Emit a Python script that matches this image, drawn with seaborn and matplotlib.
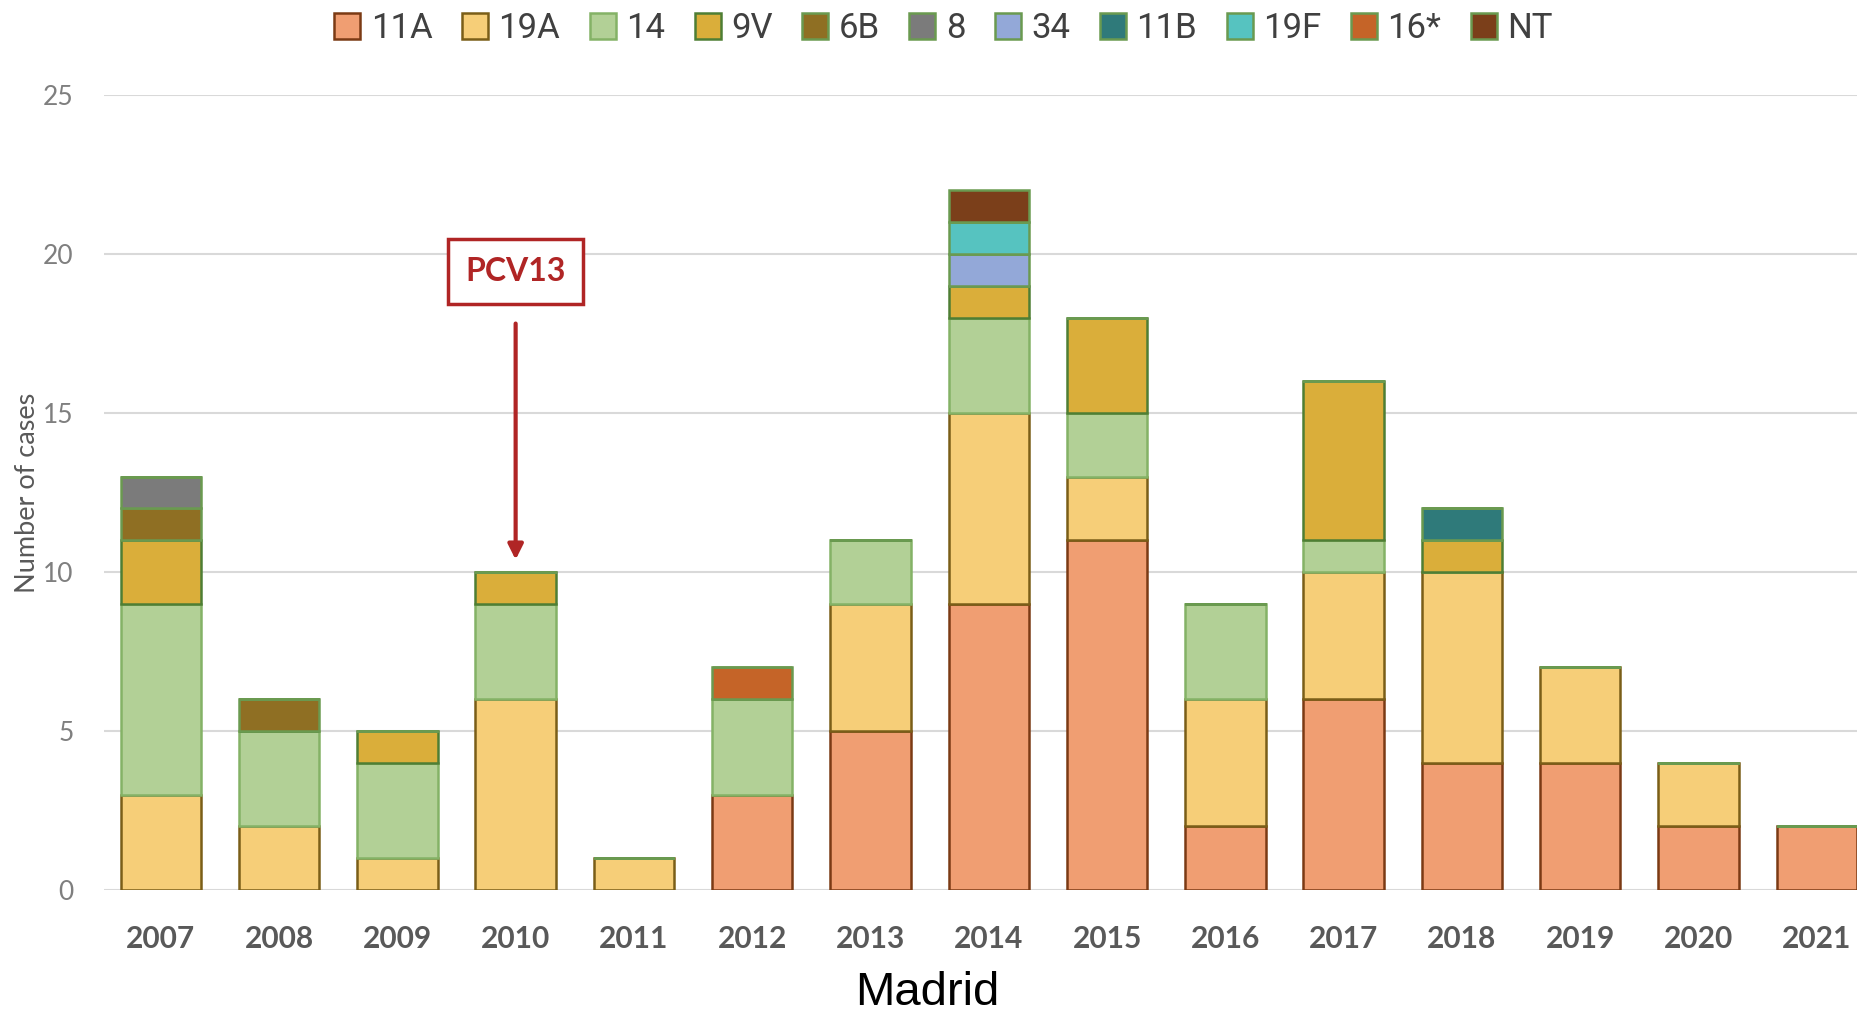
import numpy as np
import pandas as pd
import matplotlib.pyplot as plt
import seaborn as sns
from matplotlib.patches import Patch

# Data
years = [str(y) for y in range(2007, 2022)]
serotypes = ["11A", "19A", "14", "9V", "6B", "8", "34", "11B", "19F", "16*", "NT"]

s11A = [0, 0, 0, 0, 0, 3, 5, 9, 11, 2, 6, 4, 4, 2, 2]
s19A = [3, 2, 1, 6, 1, 0, 4, 6, 2, 4, 4, 6, 3, 2, 0]
s14 = [6, 3, 3, 3, 0, 3, 2, 3, 2, 3, 1, 0, 0, 0, 0]
s9V = [2, 0, 1, 1, 0, 0, 0, 1, 3, 0, 5, 1, 0, 0, 0]
s6B = [1, 1, 0, 0, 0, 0, 0, 0, 0, 0, 0, 0, 0, 0, 0]
s8 = [1, 0, 0, 0, 0, 0, 0, 0, 0, 0, 0, 0, 0, 0, 0]
s34 = [0, 0, 0, 0, 0, 0, 0, 1, 0, 0, 0, 0, 0, 0, 0]
s11B = [0, 0, 0, 0, 0, 0, 0, 0, 0, 0, 0, 1, 0, 0, 0]
s19F = [0, 0, 0, 0, 0, 0, 0, 1, 0, 0, 0, 0, 0, 0, 0]
s16 = [0, 0, 0, 0, 0, 1, 0, 0, 0, 0, 0, 0, 0, 0, 0]
sNT = [0, 0, 0, 0, 0, 0, 0, 1, 0, 0, 0, 0, 0, 0, 0]

face_colors = ["#F09E72", "#F6CE78", "#B2D096", "#DAAE3A", "#8F6F23", "#7B7B7B",
               "#93A8D8", "#2F7A7A", "#56C3C0", "#C56428", "#7B3F1A"]
edge_colors = ["#7B3A14", "#7A5E18", "#84B266", "#4E7E34", "#6A9A50", "#6A9A50",
               "#6A9A50", "#6A9A50", "#6A9A50", "#6A9A50", "#6A9A50"]

df = pd.DataFrame([s11A, s19A, s14, s9V, s6B, s8, s34, s11B, s19F, s16, sNT],
                  index=serotypes, columns=years).T

sns.set_style("white")

fig = plt.figure(figsize=(18.57, 10.18), dpi=100)
ax = fig.add_axes([0.056, 0.1257, 0.944, 0.781])

# stacked bars, one layer per serotype
bottom = np.zeros(len(years))
for name, fc, ec in zip(serotypes, face_colors, edge_colors):
    sns.barplot(x=df.index, y=df[name], order=years, ax=ax, color=fc, saturation=1,
                edgecolor=ec, linewidth=1.8, width=0.68, errorbar=None,
                bottom=bottom)
    bottom = bottom + df[name].values

ax.set_ylim(0, 25)
ax.set_xlim(-0.48, 14.34)
ax.set_yticks([0, 5, 10, 15, 20, 25])
ax.yaxis.grid(True, color="#D9D9D9", linewidth=1.5)
ax.set_axisbelow(True)
sns.despine(ax=ax, left=True, bottom=True)
ax.tick_params(axis="both", length=0)
ax.tick_params(axis="x", pad=25)
ax.tick_params(axis="y", pad=22)

for lab in ax.get_xticklabels():
    lab.set_family("Lato")
    lab.set_fontweight("bold")
    lab.set_fontsize(21.5)
    lab.set_color("#595959")
for lab in ax.get_yticklabels():
    lab.set_family("Lato")
    lab.set_fontsize(19)
    lab.set_color("#7F7F7F")

ax.set_xlabel("")
ax.set_ylabel("Number of cases", family="Lato", fontsize=19.5, color="#595959", labelpad=2)

# PCV13 annotation
ax.text(3, 19.45, "PCV13", ha="center", va="center", family="Lato", fontweight="bold",
        fontsize=23, color="#B02525",
        bbox=dict(boxstyle="square,pad=0.55", facecolor="white", edgecolor="#B02525", linewidth=2.5))
ax.annotate("", xy=(3, 10.3), xytext=(3, 17.9),
            arrowprops=dict(arrowstyle="-|>,head_width=0.45,head_length=0.9",
                            color="#B02525", linewidth=3))

handles = [Patch(facecolor=fc, edgecolor=ec, linewidth=1.8, label=n)
           for n, fc, ec in zip(serotypes, face_colors, edge_colors)]
fig.legend(handles=handles, loc="center", bbox_to_anchor=(0.508, 0.972), ncol=11,
           frameon=False, handlelength=0.75, handleheight=0.75, handletextpad=0.3,
           columnspacing=0.85, prop={"family": "Roboto", "size": 25},
           labelcolor="#404040")

fig.text(0.4994, 0.025, "Madrid", ha="center", va="center", family="Liberation Sans",
         fontsize=34, color="black")

fig.savefig("out.png", dpi=100)
